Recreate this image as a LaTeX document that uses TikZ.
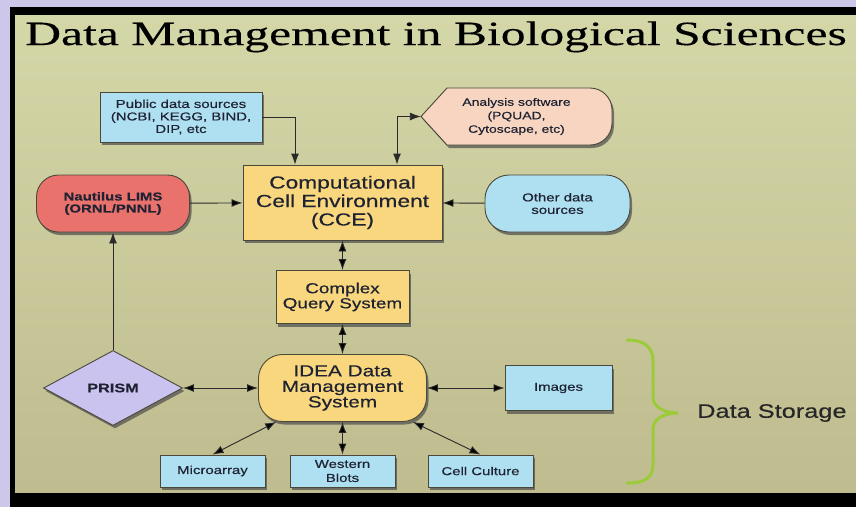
\documentclass[tikz,border=0pt]{standalone}
\usepackage{fontspec}
\newfontfamily\slidefont{Liberation Sans}[FakeStretch=1.3,FakeBold=0.4]
\newfontfamily\titlefont{Liberation Serif}[FakeStretch=1.46,FakeBold=0.3]
\usetikzlibrary{arrows.meta,shapes.geometric,shadows,positioning}
\definecolor{outerlav}{HTML}{CDC7EA}
\definecolor{slidetop}{HTML}{D4D7A7}
\definecolor{slidebot}{HTML}{BFBC8F}
\definecolor{skyfill}{HTML}{AEE0F1}
\definecolor{peachfill}{HTML}{F7D5C0}
\definecolor{sunfill}{HTML}{F9D77E}
\definecolor{redfill}{HTML}{EA726D}
\definecolor{lavfill}{HTML}{CBC3EF}
\definecolor{bracegreen}{HTML}{9CCB3A}
\definecolor{edgecol}{HTML}{4A4838}
\definecolor{inkcol}{HTML}{1E2232}
\definecolor{linkcol}{HTML}{2A2A2A}

\begin{document}
\begin{tikzpicture}[x=1pt,y=-1pt,>={Latex[length=11pt,width=8pt]},
  every node/.style={font=\slidefont,text=inkcol,inner sep=0pt,align=center},
  box/.style={rectangle,draw=edgecol,line width=0.9pt,
    drop shadow={shadow xshift=2pt,shadow yshift=-3pt,fill=black!70,opacity=.7}},
  small text/.style={font=\slidefont\fontsize{11.5}{12.5}\selectfont},
  blue box/.style={box,fill=skyfill,small text},
  sun box/.style={box,fill=sunfill},
  red box/.style={box,fill=redfill,rounded corners=22pt,
    font=\slidefont\bfseries\fontsize{11.5}{12}\selectfont},
  link/.style={draw=linkcol,line width=0.9pt}]

  % slide and frame
  \fill[outerlav] (0,0) rectangle (856,507);
  \fill[black] (10,7) rectangle (856,507);
  \shade[top color=slidetop,bottom color=slidebot] (15,15) rectangle (856,492);

  \node[anchor=base west,text=black,font=\titlefont\fontsize{34}{34}\selectfont] (title) at (25,45)
    {Data Management in Biological Sciences};

  % analysis software outline
  \filldraw[fill=peachfill,draw=edgecol,line width=0.9pt,
    drop shadow={shadow xshift=2pt,shadow yshift=-3pt,fill=black!70,opacity=.7}]
    (421,116.5) -- (447,88) -- (590,88) arc[start angle=90,end angle=0,radius=22pt]
    -- (612,123) arc[start angle=0,end angle=-90,radius=22pt] -- (447,145) -- cycle;

  \node[red box,minimum width=153pt,minimum height=57pt] (1) at (113,203.5) {Nautilus LIMS\\(ORNL/PNNL)};
  \node[blue box,minimum width=162pt,minimum height=50pt] (2) at (181,117) {Public data sources\\(NCBI, KEGG, BIND,\\DIP, etc};
  \node[minimum width=191pt,minimum height=57pt,font=\slidefont\fontsize{10.7}{13.5}\selectfont] (3) at (516.5,116.5)
    {Analysis software\\(PQUAD,\\Cytoscape, etc)};
  \node[sun box,minimum width=199pt,minimum height=75pt,font=\slidefont\fontsize{17.5}{18.5}\selectfont] (4) at (342.5,202.5)
    {Computational\\Cell Environment\\(CCE)};
  \node[blue box,rounded corners=24pt,minimum width=145pt,minimum height=57pt] (5) at (557.5,203.5) {Other data\\sources};
  \node[sun box,minimum width=133pt,minimum height=53pt,font=\slidefont\fontsize{14.5}{15}\selectfont] (6) at (342.5,297) {Complex\\Query System};
  \node[sun box,rounded corners=24pt,minimum width=168pt,minimum height=67pt,font=\slidefont\fontsize{16}{15.5}\selectfont] (7) at (342.5,388) {IDEA Data\\Management\\System};
  \node[box,diamond,fill=lavfill,minimum width=139pt,minimum height=75pt,
    font=\slidefont\bfseries\fontsize{12.5}{13}\selectfont] (8) at (113,388) {PRISM};
  \node[blue box,minimum width=107pt,minimum height=45pt] (9) at (558.5,388) {Images};
  \node[blue box,minimum width=105pt,minimum height=32pt] (10) at (212.5,471) {Microarray};
  \node[blue box,minimum width=105pt,minimum height=32pt,font=\slidefont\fontsize{11.5}{14}\selectfont] (11) at (342.5,471) {Western\\Blots};
  \node[blue box,minimum width=105pt,minimum height=32pt] (12) at (480.5,471) {Cell Culture};

  % data storage brace
  \draw[bracegreen,line width=3pt,line cap=round]
    (627,340) .. controls (645,340) and (653,347) .. (653,362) -- (653,397)
    .. controls (653,407) and (664,413) .. (678,413)
    .. controls (664,413) and (653,419) .. (653,429) -- (653,464)
    .. controls (653,478) and (645,483) .. (627,483);
  \node[anchor=west,text=black!85,font=\slidefont\fontsize{19.5}{20}\selectfont] (store) at (697,413) {Data Storage};

  \draw[link,->] (2.east) -| ([xshift=-47.5pt]4.north);
  \draw[link,<->] ([xshift=54.5pt]4.north) |- (3.west);
  \draw[link,->] (8.north) -- (1.south);

  \path[link]
    (1) edge [->] (4)
    (5) edge [->] (4)
    (4) edge [<->] (6)
    (6) edge [<->] (7)
    (8) edge [<->] (7)
    (7) edge [<->] (9)
    (10.north) edge [<->] (7)
    (11) edge [<->] (7)
    (12.north) edge [<->] (7);

\end{tikzpicture}
\end{document}
